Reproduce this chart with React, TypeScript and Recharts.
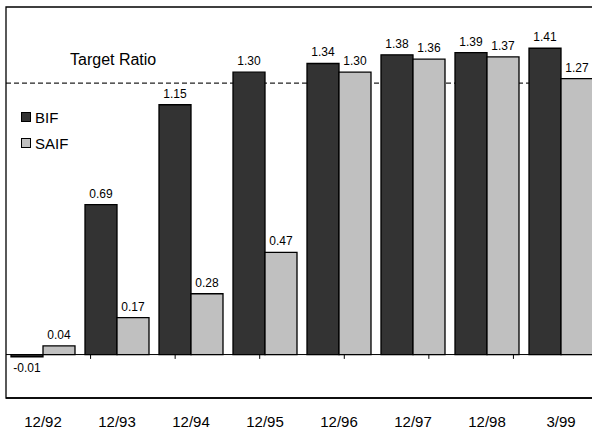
import React from 'react'
import { BarChart, Bar, XAxis, YAxis, ReferenceLine, ReferenceArea, LabelList, Legend } from 'recharts'

const periods = ['12/92', '12/93', '12/94', '12/95', '12/96', '12/97', '12/98', '3/99']
const bifRatio = [-0.01, 0.69, 1.15, 1.3, 1.34, 1.38, 1.39, 1.41]
const saifRatio = [0.04, 0.17, 0.28, 0.47, 1.3, 1.36, 1.37, 1.27]
const targetRatio = 1.25
const yDomain = [-0.2, 1.6]

const data = periods.map((p, i) => ({ period: p, BIF: bifRatio[i], SAIF: saifRatio[i] }))
// category boundaries, used for the little ticks under the zero line
const boundaries = periods.slice(1).map((_, i) => i + 1)

const FONT = '"Liberation Sans", Arial, sans-serif'

const TargetLabel = (props: any) => {
  const vb = props.viewBox || {}
  return (
    <text x={vb.x + 64} y={vb.y - 18} fontSize={16} fontFamily={FONT} fill="#000">
      Target Ratio
    </text>
  )
}

const LegendBox = (props: any) => {
  const items = props.payload || []
  return (
    <div style={{ fontFamily: FONT, fontSize: 15, color: '#000' }}>
      {items.map((it: any) => (
        <div key={it.value} style={{ display: 'flex', alignItems: 'center', height: 26 }}>
          <span
            style={{
              width: 8,
              height: 8,
              background: it.color,
              border: '1.3px solid #000',
              marginRight: 4,
              display: 'inline-block',
            }}
          />
          {it.value}
        </div>
      ))}
    </div>
  )
}

const fmt = (v: any) => Number(v).toFixed(2)

export default function App() {
  return (
    <div style={{ position: 'fixed', left: 0, top: 0, width: 592, height: 430, overflow: 'hidden', background: '#fff', fontFamily: FONT }}>
      <BarChart
        width={600}
        height={430}
        data={data}
        margin={{ top: 7, right: 2, bottom: 2, left: 6 }}
        barCategoryGap={5}
        barGap={0}
      >
        <XAxis
          dataKey="period"
          height={30}
          axisLine={{ stroke: '#000', strokeWidth: 1.3 }}
          tickLine={false}
          tickSize={0}
          tickMargin={18}
          tick={{ fill: '#000', fontSize: 15, fontFamily: FONT }}
        />
        <XAxis xAxisId="edge" type="number" domain={[0, periods.length]} hide />
        <YAxis hide domain={yDomain} allowDataOverflow />
        <ReferenceArea y1={yDomain[0]} y2={yDomain[1]} fill="none" stroke="#000" strokeWidth={1.3} fillOpacity={0} />
        <ReferenceLine
          y={targetRatio}
          stroke="#222"
          strokeWidth={1.2}
          strokeDasharray="5 3"
          zIndex={-10}
          label={<TargetLabel />}
        />
        <Legend
          layout="vertical"
          align="center"
          verticalAlign="middle"
          wrapperStyle={{ left: 21, top: 104, width: 80, height: 60 }}
          content={<LegendBox />}
        />
        <Bar dataKey="BIF" fill="#333333" stroke="#000" strokeWidth={1.3} isAnimationActive={false}>
          <LabelList dataKey="BIF" position="top" offset={7} fontSize={12} fill="#000" fontFamily={FONT} formatter={fmt} />
        </Bar>
        <Bar dataKey="SAIF" fill="#c0c0c0" stroke="#000" strokeWidth={1.3} isAnimationActive={false}>
          <LabelList dataKey="SAIF" position="top" offset={7} fontSize={12} fill="#000" fontFamily={FONT} formatter={fmt} />
        </Bar>
        <ReferenceLine y={0} stroke="#000" strokeWidth={1} />
        {boundaries.map((b) => (
          <ReferenceLine
            key={b}
            xAxisId="edge"
            segment={[{ x: b, y: 0 }, { x: b, y: -0.02 }]}
            stroke="#000"
            strokeWidth={1}
          />
        ))}
      </BarChart>
    </div>
  )
}
